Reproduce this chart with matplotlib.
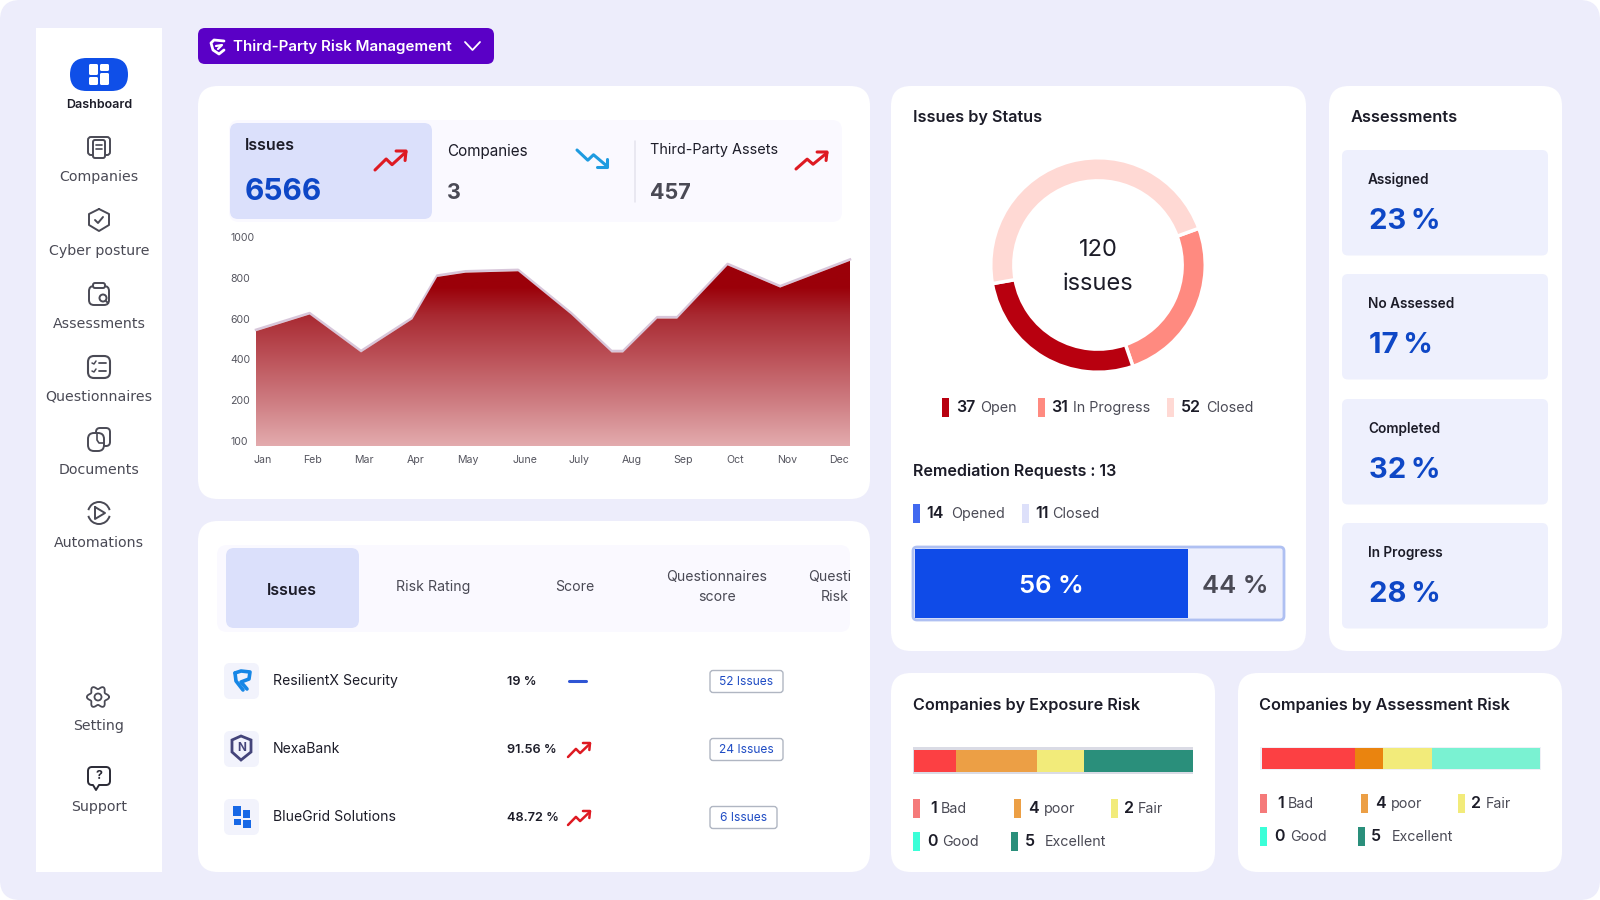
import numpy as np
import matplotlib
matplotlib.use("Agg")
import matplotlib.pyplot as plt
from matplotlib.patches import FancyBboxPatch, Circle, Polygon, Arc
from matplotlib.colors import LinearSegmentedColormap

plt.rcParams['font.family'] = ['Inter', 'DejaVu Sans']

# issues area chart
month_labels = ["Jan", "Feb", "Mar", "Apr", "May", "June", "July", "Aug", "Sep", "Oct", "Nov", "Dec"]
month_ticks = [0.13, 1.08, 2.06, 3.04, 4.04, 5.12, 6.15, 7.15, 8.14, 9.13, 10.11, 11.1]
issue_x = [0, 1.02, 2.0, 2.98, 3.45, 3.99, 4.99, 6.0, 6.77, 6.99, 7.64, 8.02, 8.98, 9.98, 11.31]
issue_y = [538, 620, 434, 597, 804, 825, 832, 620, 434, 434, 600, 600, 861, 752, 883]
y_ticks = [0, 200, 400, 600, 800, 1000]
y_labels = ["100", "200", "400", "600", "800", "1000"]

# donut, arcs as drawn in degrees
status_names = ["In Progress", "Open", "Closed"]
status_arcs = [91, 99, 170]
status_colors = ["#FF8A80", "#B8000F", "#FFD9D4"]

# remediation bar (drawn lengths)
remediation_lengths = [74.4, 25.6]
remediation_labels = ["56 %", "44 %"]

# assessments tiles
assess_names = ["Assigned", "No Assessed", "Completed", "In Progress"]
assess_values = ["23\u2009%", "17\u2009%", "32\u2009%", "28\u2009%"]

# risk bars (drawn lengths)
exposure_lengths = [15, 29, 17, 39]
exposure_colors = ["#FC4043", "#EC9F45", "#F2EB7A", "#2A8F7B"]
assessment_lengths = [33.6, 10, 17.6, 38.8]
assessment_colors = ["#FC4043", "#EA840F", "#F2EB7A", "#7AF2D2"]

# table
company_names = ["ResilientX Security", "NexaBank", "BlueGrid Solutions"]
company_scores = ["19 %", "91.56 %", "48.72 %"]
company_issues = ["52 Issues", "24 Issues", "6 Issues"]

DARK = "#1C1C28"
GREY = "#4A4A55"
BLUE = "#0E47C6"
RED = "#DE1A22"

fig = plt.figure(figsize=(16, 9), dpi=100, facecolor="white")
ax = fig.add_axes([0, 0, 1, 1])
ax.set_xlim(0, 1600)
ax.set_ylim(900, 0)
ax.axis("off")


def box(x0, y0, x1, y1, color, r=0, ec="none", lw=0, z=1):
    p = FancyBboxPatch((x0 + r, y0 + r), x1 - x0 - 2 * r, y1 - y0 - 2 * r,
                       boxstyle=f"round,pad={r},rounding_size={r}" if r else "square,pad=0",
                       fc=color, ec=ec, lw=lw, zorder=z)
    ax.add_patch(p)


def txt(x, y, s, size=10, color=DARK, weight="normal", ha="left", z=5, family=None):
    # inter sits a little high compared with the reference font
    y = y + 1.2 + 0.08 * size
    ax.text(x, y, s, fontsize=size, color=color, fontweight=weight, ha=ha, va="center", zorder=z, family=family)


def line(pts, color=GREY, lw=1.4, z=5):
    pts = np.array(pts)
    ax.plot(pts[:, 0], pts[:, 1], color=color, lw=lw, zorder=z, solid_capstyle="round", solid_joinstyle="round")


def trend_up(x, y, w=32, h=19, color=RED, lw=2.2):
    line([(x, y + h), (x + w * .36, y + h * .42), (x + w * .55, y + h * .72), (x + w, y + h * .05)], color, lw)
    line([(x + w * .68, y), (x + w, y), (x + w * .97, y + h * .5)], color, lw)


def trend_down(x, y, w=32, h=18, color="#1E9BE0", lw=2.2):
    line([(x, y), (x + w * .36, y + h * .6), (x + w * .55, y + h * .28), (x + w, y + h * .95)], color, lw)
    line([(x + w * .68, y + h), (x + w, y + h), (x + w, y + h * .5)], color, lw)


def legend_item(x_sw, x_num, x_lab, y, col, num, lab, sw_h=19):
    box(x_sw, y - sw_h / 2, x_sw + 6.5, y + sw_h / 2, col, z=3)
    txt(x_num, y - 2, num, 11.5, DARK, "semibold")
    txt(x_lab, y - 1, lab, 10.3, GREY)


def sub_axes(x0, y0, x1, y1):
    return fig.add_axes([x0 / 1600, 1 - y1 / 900, (x1 - x0) / 1600, (y1 - y0) / 900])


# page and cards
box(0, 0, 1600, 900, "#EDEDFB", r=20, z=0)
box(36, 28, 162, 872, "white", z=1)
box(198, 28, 494, 64, "#5A00C6", r=7)
for c in [(198, 86, 870, 499), (198, 521, 870, 872), (891, 86, 1306, 651),
          (1329, 86, 1562, 651), (891, 673, 1215, 872), (1238, 673, 1562, 872)]:
    box(*c, "white", r=20)

# header button
txt(233, 44.5, "Third-Party Risk Management", 10.9, "white", "semibold")
line([(465, 42), (472.5, 50), (480, 42)], "white", 1.3)
line([(224, 41), (214, 40), (211, 43), (213, 50), (219, 54), (224, 50)], "white", 2)
line([(216, 46), (222, 45), (218, 49)], "white", 1.6)

# sidebar
box(70, 58, 128, 91, "#0F4FE8", r=16.5)
for s in [(89, 64, 98, 75), (100, 64, 109, 71), (89, 77, 98, 85), (100, 73, 109, 85)]:
    box(*s, "white", r=1.5, z=4)
txt(99, 103.5, "Dashboard", 9, DARK, "semibold", "center")
side_names = ["Companies", "Cyber posture", "Assessments", "Questionnaires", "Documents", "Automations", "Setting", "Support"]
side_icon_y = [147, 220, 294, 367, 440, 513, 697, 777]
side_label_y = [175, 248.5, 321.5, 394.5, 467.5, 541, 724, 805]
for name, yl in zip(side_names, side_label_y):
    txt(99, yl, name, 10.2, GREY, "normal", "center", family="DejaVu Sans")

# companies icon
y = side_icon_y[0]
box(88, y - 10, 110, y + 8, "none", r=3, ec=GREY, lw=1.4, z=5)
box(93, y - 7, 105, y + 11, "white", r=2, ec=GREY, lw=1.4, z=6)
line([(96, y - 2), (102, y - 2)], GREY, 1.2, 7)
line([(96, y + 2), (102, y + 2)], GREY, 1.2, 7)
# shield icon
y = side_icon_y[1]
line([(99, y - 11), (109, y - 6), (109, y + 5), (99, y + 11), (89, y + 5), (89, y - 6), (99, y - 11)])
line([(95, y), (98, y + 3), (103, y - 3)])
# assessments icon
y = side_icon_y[2]
box(89, y - 8, 109, y + 11, "none", r=5, ec=GREY, lw=1.4, z=5)
box(93, y - 11, 105, y - 6, "white", r=2, ec=GREY, lw=1.4, z=6)
ax.add_patch(Circle((103, y + 4), 3.5, fc="white", ec=GREY, lw=1.4, zorder=6))
line([(106, y + 7), (108, y + 9)], GREY, 1.4, 7)
# questionnaires icon
y = side_icon_y[3]
box(88, y - 11, 110, y + 11, "none", r=6, ec=GREY, lw=1.5, z=5)
for dy in (-4, 4):
    line([(92, y + dy), (94, y + dy + 1), (96, y + dy - 2)], GREY, 1.1)
    line([(99, y + dy), (106, y + dy)], GREY, 1.3)
# documents icon
y = side_icon_y[4]
box(96, y - 12, 110, y + 6, "none", r=4, ec=GREY, lw=1.4, z=5)
box(88, y - 7, 104, y + 11, "white", r=6, ec=GREY, lw=1.4, z=6)
line([(104, y + 3), (99, y + 3), (97, y), (97, y - 7)], GREY, 1.2, 7)
# automations icon
y = side_icon_y[5]
ax.add_patch(Arc((99, y), 22, 22, theta1=15, theta2=165, ec=GREY, lw=1.4, zorder=5))
ax.add_patch(Arc((99, y), 22, 22, theta1=195, theta2=345, ec=GREY, lw=1.4, zorder=5))
line([(95, y - 6), (105, y), (95, y + 6), (95, y - 6)], GREY, 1.4)
# setting icon
y = side_icon_y[6]
ang = np.linspace(0, 2 * np.pi, 121)
rad = 9.5 + 1.6 * np.cos(6 * ang)
line(np.c_[98 + rad * np.cos(ang), y + rad * np.sin(ang)], GREY, 1.3)
ax.add_patch(Circle((98, y), 3.5, fc="none", ec=GREY, lw=1.3, zorder=5))
# support icon
y = side_icon_y[7]
box(88, y - 10, 110, y + 8, "none", r=4, ec="#2A2A35", lw=1.4, z=5)
box(93, y + 6, 99, y + 9, "white", z=6)
line([(93, y + 8), (96, y + 13), (99, y + 8)], "#2A2A35", 1.4, 7)
txt(99, y - 3, "?", 9, "#2A2A35", "bold", "center", z=7)

# top tabs
box(229, 120, 842, 222, "#FAF9FF", r=10, z=2)
box(230, 123, 432, 219, "#DBE0FB", r=8, z=3)
txt(245, 143, "Issues", 11.5, DARK, "semibold")
txt(245, 189, "6566", 21.5, BLUE, "bold")
trend_up(375, 151, 31, 19)
txt(447, 149, "Companies", 11, DARK)
txt(447, 190.5, "3", 15.5, GREY, "bold")
trend_down(577, 150, 30, 17)
line([(635, 141), (635, 202)], "#E4E4EE", 1.1, 3)
txt(650, 148, "Third-Party Assets", 10.4, DARK)
txt(650, 190.5, "457", 15.5, GREY, "bold")
trend_up(796, 152, 31, 17)

# area chart
a1 = sub_axes(256, 237, 850, 446)
a1.set_xlim(0, 11.31)
a1.set_ylim(-25, 1000)
a1.patch.set_alpha(0)
a1.plot(issue_x, np.array(issue_y) + 7, color="#D8C6DA", lw=1.8, zorder=1, clip_on=False)
fill = a1.fill_between(issue_x, -25, issue_y, color="none", zorder=2)
area_cmap = LinearSegmentedColormap.from_list("area", [(0, "#E3ABAE"), (0.2, "#CF7F84"), (0.42, "#BC5259"), (0.62, "#A92B33"), (0.76, "#9B0009"), (1, "#9B0009")])
grad = a1.imshow(np.linspace(1, 0, 256).reshape(-1, 1), extent=[0, 11.31, -25, 1000], aspect="auto", cmap=area_cmap, vmin=0, vmax=1, zorder=2)
grad.set_clip_path(fill.get_paths()[0], a1.transData)
a1.set_xticks(month_ticks, month_labels)
a1.set_yticks(y_ticks, y_labels)
a1.tick_params(length=0, labelsize=7.6, labelcolor="#55555F")
a1.tick_params(axis="x", pad=6.8)
a1.tick_params(axis="y", pad=18.7)
for t in a1.get_yticklabels():
    t.set_ha("left")
for s in a1.spines.values():
    s.set_visible(False)

# bottom tabs
box(217, 545, 850, 632, "#FAF9FF", r=10, z=2)
box(226, 548, 359, 628, "#DBE0FB", r=8, z=3)
txt(292, 588, "Issues", 11.5, DARK, "semibold", "center")
txt(433, 585, "Risk Rating", 10.2, GREY, "normal", "center")
txt(575, 585, "Score", 10.2, GREY, "normal", "center")
txt(717, 575, "Questionnaires", 10.2, GREY, "normal", "center")
txt(717, 595, "score", 10.2, GREY, "normal", "center")
txt(808, 575, "Questi", 10.2, GREY)
txt(835, 595, "Risk", 10.2, GREY, "normal", "center")

row_y = [681, 749, 817]
for i, (name, score, issues) in enumerate(zip(company_names, company_scores, company_issues)):
    y = row_y[i]
    box(224, y - 18, 259, y + 18, "#F2F3FC", r=6, z=2)
    txt(273, y - 2, name, 10.1, DARK)
    txt(507, y - 1, score, 9.2, DARK, "semibold")
    right = 777 if i == 2 else 783
    box(710, y - 10.5, right, y + 11.5, "white", r=3, ec="#B0B6C2", lw=1, z=3)
    txt((710 + right) / 2, y - 0.5, issues, 8.6, "#1F4CC4", "normal", "center")
line([(569, 681), (586, 681)], "#2F55D4", 2.2)
trend_up(568, 743, 22, 14, lw=1.8)
trend_up(568, 811, 22, 14, lw=1.8)

# company logos
y = row_y[0]
line([(235, y - 8), (241, y - 10), (250, y - 9), (249, y - 2), (241, y + 1), (247, y + 8)], "#1787E6", 2.6, 4)
line([(235, y - 8), (236, y), (243, y + 9)], "#1787E6", 2.6, 4)
y = row_y[1]
ax.add_patch(Polygon([(232, y - 9), (241, y - 13), (251, y - 9), (251, y + 3), (241, y + 11), (232, y + 3)], fc="none", ec="#44447A", lw=2, zorder=4))
txt(241.5, y - 3, "N", 8.5, "#44447A", "bold", "center")
y = row_y[2]
for s in [(233, y - 11, 241, y - 1), (243, y - 7, 250, y + 1), (234, y + 2, 241, y + 8), (243, y + 3, 251, y + 11)]:
    box(*s, "#1768E6", z=4)

# issues by status
txt(913, 115, "Issues by Status", 11.7, DARK, "semibold")
a2 = sub_axes(988, 155, 1208, 375)
a2.pie(status_arcs, colors=status_colors, startangle=20, counterclock=False, radius=0.975,
       wedgeprops=dict(width=0.21, edgecolor="white", linewidth=2.5))
a2.set_xlim(-1, 1)
a2.set_ylim(-1, 1)
txt(1098, 247, "120", 17, DARK, "normal", "center")
txt(1098, 281, "issues", 17, DARK, "normal", "center")
legend_item(942, 956, 980, 407, status_colors[1], "37", "Open")
legend_item(1038, 1051, 1073, 407, status_colors[0], "31", "In Progress")
legend_item(1167, 1181, 1206, 407, status_colors[2], "52", "Closed")

# remediation
txt(913, 469, "Remediation Requests : 13", 11.6, DARK, "semibold")
legend_item(913, 926, 951, 513, "#4169F0", "14", "Opened")
legend_item(1022, 1035, 1052, 513, "#DDE0FA", "11", "Closed")
box(913, 547, 1284, 620, "#EDEFFD", r=4, ec="#AFC0F2", lw=2, z=2)
a3 = sub_axes(915, 549, 1282, 618)
a3.barh(0, remediation_lengths, left=[0, remediation_lengths[0]], height=1, color=["#0F4BE8", "#EDEFFD"])
a3.set_xlim(0, 100)
a3.set_ylim(-0.5, 0.5)
a3.axis("off")
a3.text(remediation_lengths[0] / 2, -0.05, remediation_labels[0], fontsize=18.5, color="white", fontweight="semibold", ha="center", va="center")
a3.text(remediation_lengths[0] + remediation_lengths[1] / 2, -0.05, remediation_labels[1], fontsize=18.5, color=GREY, fontweight="semibold", ha="center", va="center")

# assessments
txt(1351, 115, "Assessments", 11.8, DARK, "semibold")
tile_top = [150, 274, 399, 523]
for t, name, val in zip(tile_top, assess_names, assess_values):
    box(1342, t, 1548, t + 105.5, "#EEF0FD", r=6, z=2)
    txt(1368, t + 28, name, 9.8, DARK, "semibold")
    txt(1369, t + 69, val, 21, BLUE, "bold")

# companies by exposure risk
txt(913, 703, "Companies by Exposure Risk", 11.65, DARK, "semibold")
box(913, 747, 1193, 774, "#DADBE5", z=2)
a4 = sub_axes(914, 750, 1193, 772)
a4.barh(0, exposure_lengths, left=np.cumsum([0] + exposure_lengths[:-1]), height=1, color=exposure_colors)
a4.set_xlim(0, 100)
a4.set_ylim(-0.5, 0.5)
a4.axis("off")
legend_item(913, 930, 941, 808, "#F57A7A", "1", "Bad")
legend_item(1014, 1028, 1044, 808, "#EC9F45", "4", "poor")
legend_item(1111, 1124, 1138, 808, "#F2EB7A", "2", "Fair")
legend_item(913, 927, 942, 841, "#3BFFD8", "0", "Good")
legend_item(1011, 1025, 1045, 841, "#2A8F7B", "5", "Excellent")

# companies by assessment risk
txt(1259, 703, "Companies by Assessment Risk", 11.7, DARK, "semibold")
box(1260, 747, 1541, 770, "#EFF0F6", z=2)
a5 = sub_axes(1262, 748, 1540, 769)
a5.barh(0, assessment_lengths, left=np.cumsum([0] + assessment_lengths[:-1]), height=1, color=assessment_colors)
a5.set_xlim(0, 100)
a5.set_ylim(-0.5, 0.5)
a5.axis("off")
legend_item(1260, 1277, 1288, 803, "#F57A7A", "1", "Bad")
legend_item(1361, 1375, 1391, 803, "#EC9F45", "4", "poor")
legend_item(1458, 1471, 1486, 803, "#F2EB7A", "2", "Fair")
legend_item(1260, 1274, 1290, 836, "#3BFFD8", "0", "Good")
legend_item(1358, 1371, 1392, 836, "#2A8F7B", "5", "Excellent")

fig.savefig("out.png", dpi=100)
